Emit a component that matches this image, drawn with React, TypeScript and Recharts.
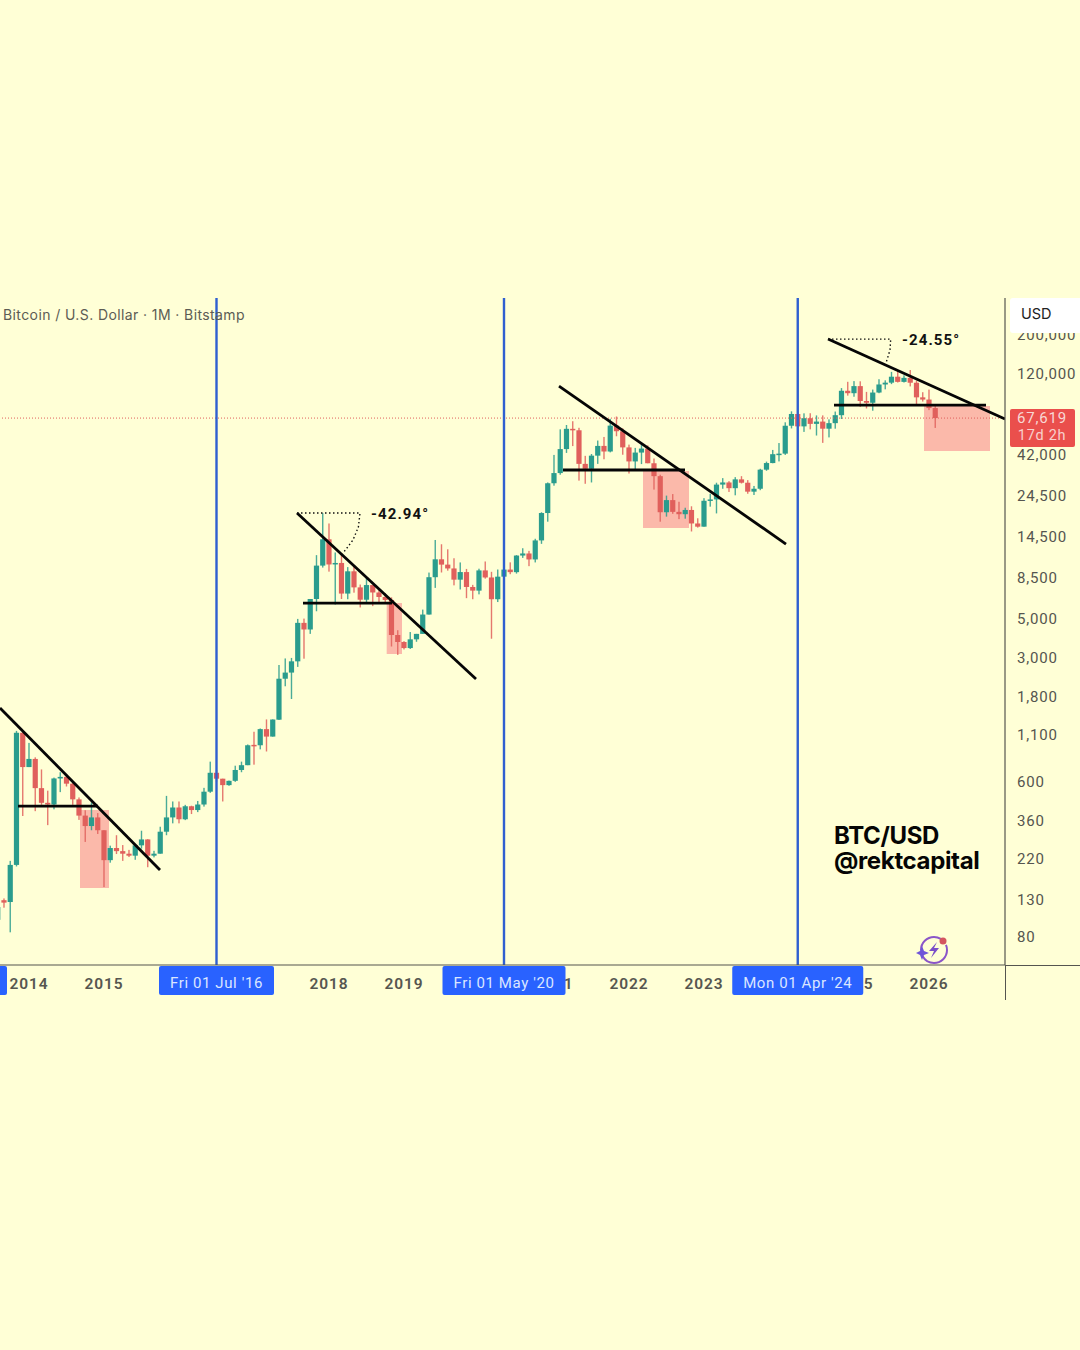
import React from "react";
import { ComposedChart, Bar, Line, XAxis, YAxis, ReferenceLine, ReferenceArea } from "recharts";

const BG = "#ffffd6";
const UP = "#2a9c8d";
const DOWN = "#e0605c";

const firstIndex = -5;
const opens = [100,129,126,204,1135,727,808,553,457,447,627,640,586,478,387,338,378,320,217,254,244,236,230,263,284,230,236,314,378,430,369,437,416,447,528,675,625,575,608,700,745,970,965,1190,1080,1345,2290,2480,2870,4730,4340,6450,9950,14000,10100,10300,6920,9240,7500,6390,7730,7020,6620,6370,4040,3690,3410,3820,4100,5270,8560,10800,10080,9590,8290,9150,7540,7190,9350,8530,6430,8620,9450,9140,11340,11650,10780,13800,19700,29000,33100,45200,58800,57700,37300,35000,41500,47100,43800,61300,57000,46200,38500,43200,45500,37600,31800,19900,23300,20000,19400,20500,17200,16500,23100,23500,28500,29300,27200,30500,29200,26000,27000,34600,37700,42300,42600,61200,71300,60700,67500,62700,64600,58900,63300,70200,96400,93400,102400,84400,82500,94200,104600,107100,115700,108200,114000,107000,88500,86000,77000];
const highs = [135,132,215,1163,1163,995,825,705,535,634,680,650,600,490,415,460,400,320,262,300,264,248,268,318,285,245,335,500,465,465,445,440,468,555,780,700,625,610,740,780,975,1150,1200,1350,1350,2737,2980,3000,4980,5000,6450,11400,19660,17200,11800,11700,9760,10000,7780,8480,7730,7400,6950,6590,4300,3730,4200,4100,5620,9090,13880,13130,12300,10950,10370,9530,7750,9560,10500,9180,9460,10070,10380,11400,12470,12050,14100,19900,29300,41900,58400,61800,64900,59600,41400,42400,50500,52900,67000,69000,59100,47900,45900,48200,47400,40000,32400,24700,25200,22800,21100,21500,18400,23900,25300,29200,31000,29800,31400,31800,30200,28000,35000,38400,44700,48900,64000,73800,72800,71900,72000,70000,70000,66500,73600,99800,108300,109300,109000,95000,97900,112000,110400,123200,124500,117900,126200,110000,94600,97900,79300];
const lows = [96,117,85,200,385,727,410,445,342,420,525,565,445,366,275,320,305,153,210,235,215,226,218,252,198,225,236,300,350,350,365,395,405,435,520,600,465,570,600,680,745,750,915,890,1080,1340,2076,1760,2670,2970,4100,5500,9700,9200,6000,6450,6430,7000,5780,6070,5880,6100,6200,3480,3120,3350,3370,3700,4100,5270,7450,9100,9320,7700,7300,6520,6430,6850,8400,3850,6200,8120,8900,8970,11000,9880,10370,13200,17600,28100,32400,43000,47000,30000,28800,29300,37300,39600,43300,53400,42000,32900,34300,37200,37600,26700,17600,18800,19500,18200,18300,15500,16300,16500,21400,19600,27000,25900,24800,28900,25300,24900,26500,34100,37600,38500,41900,59100,59600,56500,58400,53900,49000,52600,58900,66800,90500,89200,78200,76600,74400,93400,98200,105100,107300,107300,102000,80600,83800,75000,59500];
const closes = [118,125,204,1135,727,808,553,457,447,627,640,586,478,387,338,378,320,217,254,244,236,230,263,284,230,236,314,378,430,369,437,416,447,528,675,625,575,608,700,745,965,965,1190,1080,1348,2290,2480,2870,4730,4340,6450,9950,14000,10100,10300,6920,9240,7500,6390,7730,7020,6620,6370,4040,3690,3410,3820,4100,5270,8560,10800,10080,9590,8290,9150,7540,7190,9350,8530,6430,8620,9450,9140,11340,11650,10780,13800,19700,29000,33100,45200,58800,57700,37300,35000,41500,47100,43800,61300,57000,46200,38500,43200,45500,37600,31800,19900,23300,20000,19400,20500,17200,16500,23100,23500,28500,29300,27200,30500,29200,26000,27000,34600,37700,42300,42600,61200,71300,60700,67500,62700,64600,58900,63300,70200,96400,93400,102400,84400,82500,94200,104600,107100,115700,108200,114000,107000,88500,86000,77000,67619];

const priceTicks = [80,130,220,360,600,1100,1800,3000,5000,8500,14500,24500,42000,120000,200000];
const lastPrice = 67619;
const yearTicks = [0,12,48,60,84,96,108,132,144];
const yearLabels = ["2014","2015","2018","2019","2021","2022","2023","2025","2026"];
const cycleMonths = [30,76,123];
const cycleLabels = ["Fri 01 Jul '16","Fri 01 May '20","Mon 01 Apr '24"];
const cursorStub = -4.6;

const trendLines = [
  [[-4.64,1566],[20.96,191]],
  [[42.88,19700],[71.52,2280]],
  [[84.8,102500],[121.12,13170]],
  [[127.84,188600],[156.16,66780]],
];
const supportLines = [
  [[-1.76,438],[11.04,438]],
  [[43.84,6120],[58.08,6120]],
  [[85.44,34450],[104.96,34450]],
  [[128.8,80100],[153.12,80100]],
];
const zones = [
  [8.16,12.8,151,416],
  [57.23,59.68,3158,6120],
  [98.24,105.6,16200,34000],
  [143.2,153.76,44100,79100],
];
const angleArcA = [{idx:42.88,arc:19700},{idx:52.96,arc:19700},{idx:52.7,arc:16420},{idx:51.84,arc:13880},{idx:50.24,arc:11700}];
const angleArcB = [{idx:127.84,arc:188600},{idx:137.87,arc:188600},{idx:137.76,arc:163600},{idx:137.12,arc:138200}];

const rows = opens.map((o,i)=>({idx:firstIndex+i,open:o,high:highs[i],low:lows[i],close:closes[i],range:[lows[i],highs[i]]}));

const Candle = (p:any) => {
  const {x,y,width,height,payload} = p;
  const top = Math.min(y,y+height), h = Math.abs(height);
  const at = (v:number)=> top + h*(Math.log(payload.high)-Math.log(v))/(Math.log(payload.high)-Math.log(payload.low));
  const up = payload.close>=payload.open;
  const c = up?UP:DOWN;
  const cx = x+width/2;
  const y1 = at(Math.max(payload.open,payload.close));
  const y2 = at(Math.min(payload.open,payload.close));
  return <g>
    <rect x={cx-0.7} y={top} width={1.4} height={h} fill={c} opacity={0.85}/>
    <rect x={cx-2.6} y={y1} width={5.2} height={Math.max(y2-y1,1.5)} fill={c}/>
  </g>;
};

const XTick = (p:any) => {
  const {x,payload} = p;
  const v = payload.value;
  const cycle = cycleMonths.indexOf(v);
  if (v===cursorStub) return <rect x={-4} y={966} width={11} height={29} rx={2} fill="#2962ff"/>;
  if (cycle>=0) {
    const w = cycle===2?131:cycle===1?123:115;
    return <g>
      <rect x={x-w/2} y={966} width={w} height={29} rx={2} fill="#2962ff"/>
      <text x={x} y={988} textAnchor="middle" fill="#dbe6ff" fontFamily="Roboto, sans-serif" fontSize={15} letterSpacing={0.6}>{cycleLabels[cycle]}</text>
    </g>;
  }
  const yi = yearTicks.indexOf(v);
  return <text x={x} y={988.5} textAnchor="middle" fill="#565650" fontFamily="Roboto, sans-serif" fontWeight={600} fontSize={15.5} letterSpacing={0.9}>{yearLabels[yi]}</text>;
};

const YTick = (p:any) => {
  const {y,payload} = p;
  if (payload.value===lastPrice) return <g>
    <rect x={1010} y={409} width={65} height={38} rx={2} fill="#ea4f4c"/>
    <text x={1042} y={423} textAnchor="middle" fill="#f8d8d4" fontFamily="Roboto, sans-serif" fontSize={15} letterSpacing={0.8}>67,619</text>
    <text x={1042} y={440} textAnchor="middle" fill="#f8d0cc" fontFamily="Roboto, sans-serif" fontSize={14.5} letterSpacing={0.7}>17d 2h</text>
  </g>;
  return <text x={1017} y={y+5} fill="#55554f" fontFamily="Roboto, sans-serif" fontSize={15} letterSpacing={0.8}>{payload.value.toLocaleString("en-US")}</text>;
};

const seg = (s:number[][]) => [{x:s[0][0],y:s[0][1]},{x:s[1][0],y:s[1][1]}];

const Html = ({style,children}:any) => <div style={{position:"absolute",whiteSpace:"nowrap",...style}}>{children}</div>;

export default function App(){
  return <div style={{position:"absolute",left:0,top:0,width:1080,height:1350,background:BG,overflow:"hidden"}}>
    <ComposedChart width={1080} height={1350} data={rows} margin={{top:298,left:0,right:0,bottom:350}}>
      <XAxis dataKey="idx" type="number" domain={[-4.64,156.16]} allowDataOverflow ticks={[...yearTicks,...cycleMonths,cursorStub]} interval={0} height={35} tick={<XTick/>} tickLine={false} axisLine={{stroke:"#55554f",strokeWidth:1.2}}/>
      <YAxis orientation="right" width={75} scale="log" type="number" domain={[55.6,321600]} allowDataOverflow ticks={[...priceTicks,lastPrice]} interval={0} tick={<YTick/>} tickLine={false} axisLine={{stroke:"#55554f",strokeWidth:1.2}}/>
      {zones.map((z,i)=><ReferenceArea key={i} x1={z[0]} x2={z[1]} y1={z[2]} y2={z[3]} fill="#f7737e" fillOpacity={0.5} stroke="none" ifOverflow="hidden"/>)}
      <ReferenceLine y={lastPrice} stroke="#e0605c" strokeDasharray="1 2" strokeWidth={1}/>
      <Bar dataKey="range" barSize={6} shape={<Candle/>} isAnimationActive={false}/>
      {cycleMonths.map(m=><ReferenceLine key={m} x={m} stroke="#2f5fd0" strokeWidth={2.4}/>)}
      {trendLines.map((s,i)=><ReferenceLine key={i} segment={seg(s)} stroke="#050505" strokeWidth={2.8} ifOverflow="hidden"/>)}
      {supportLines.map((s,i)=><ReferenceLine key={i} segment={seg(s)} stroke="#050505" strokeWidth={2.8} ifOverflow="hidden"/>)}
      <Line data={angleArcA} dataKey="arc" type="linear" stroke="#111" strokeWidth={1.4} strokeDasharray="1.5 2.5" dot={false} isAnimationActive={false} connectNulls/>
      <Line data={angleArcB} dataKey="arc" type="linear" stroke="#111" strokeWidth={1.4} strokeDasharray="1.5 2.5" dot={false} isAnimationActive={false} connectNulls/>
    </ComposedChart>

    <div style={{position:"absolute",left:1005,top:965,width:75,height:1.2,background:"#55554f"}}/>
    <div style={{position:"absolute",left:1005,top:965,width:1.2,height:35,background:"#55554f"}}/>
    <div style={{position:"absolute",left:1010,top:298,width:70,height:35,background:"#ffffff",borderRadius:"3px 0 0 3px"}}/>
    <Html style={{left:1021,top:305,fontFamily:"Inter, sans-serif",fontSize:14.5,color:"#222"}}>USD</Html>
    <Html style={{left:3,top:306,fontFamily:"Inter, sans-serif",fontSize:14,letterSpacing:0.4,color:"#5c5c54"}}>Bitcoin / U.S. Dollar · 1M · Bitstamp</Html>
    <Html style={{left:371,top:505,fontFamily:"Roboto, sans-serif",fontWeight:700,fontSize:15,letterSpacing:1.1,color:"#111"}}>-42.94°</Html>
    <Html style={{left:902,top:331,fontFamily:"Roboto, sans-serif",fontWeight:700,fontSize:15,letterSpacing:1.1,color:"#111"}}>-24.55°</Html>
    <Html style={{left:834,top:823,fontFamily:"Inter, sans-serif",fontWeight:700,fontSize:24,lineHeight:"25px",letterSpacing:-0.35,color:"#050505"}}>BTC/USD<br/>@rektcapital</Html>
    <svg style={{position:"absolute",left:914,top:934}} width={38} height={32} viewBox="0 0 38 32">
      <circle cx={20} cy={16} r={13} fill="none" stroke="#8a55c8" strokeWidth={2} strokeDasharray="34 6 28 8"/>
      <path d="M23 8 L15 17 L20 17 L17 24 L25 14 L20 14 Z" fill="#7a4fc9"/>
      <path d="M8 12 L10 17 L15 19 L10 21 L8 26 L6 21 L2 19 L6 17 Z" fill="#6f55d8"/>
      <circle cx={29} cy={7} r={3.5} fill="#d4555f"/>
    </svg>
  </div>;
}
